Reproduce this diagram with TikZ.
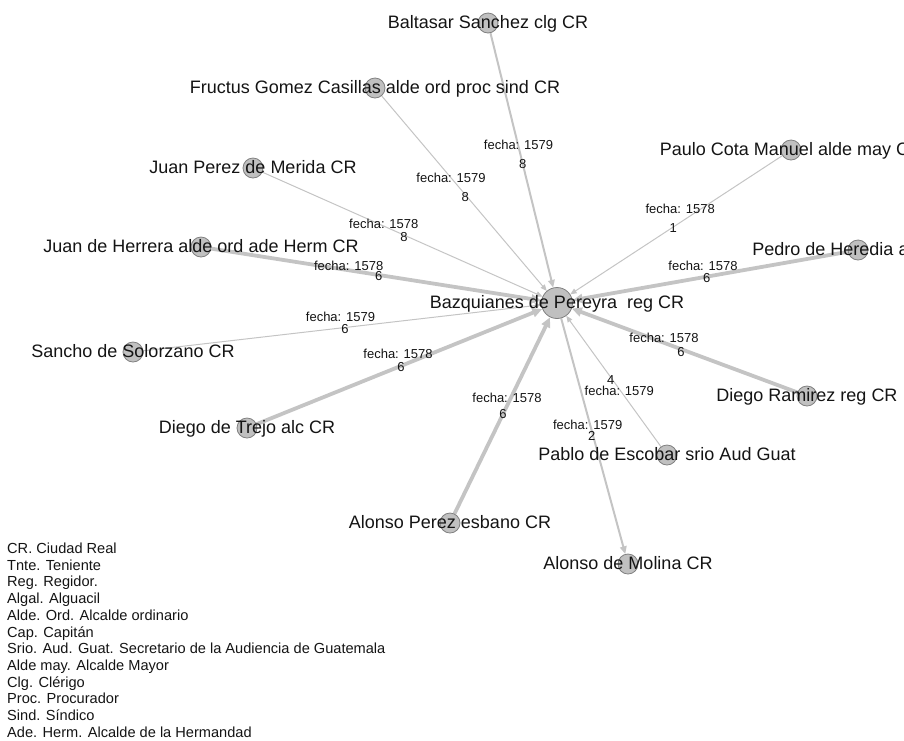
\documentclass[tikz,border=0pt]{standalone}
\usepackage{fontspec}
\setmainfont{Liberation Sans}
\usetikzlibrary{arrows.meta}
\pgfdeclarelayer{bg}
\pgfsetlayers{bg,main}
\definecolor{edgec}{RGB}{196,196,196}
\definecolor{nodef}{RGB}{192,192,192}
\definecolor{noded}{RGB}{128,128,128}
\definecolor{txt}{RGB}{20,20,20}
\begin{document}
\begin{tikzpicture}[x=1pt,y=-1pt,
  dot/.style={circle,draw=noded,fill=nodef,line width=0.8pt,minimum size=20pt,inner sep=0pt},
  hub/.style={dot,minimum size=31pt},
  lab/.style={anchor=base,inner sep=0pt,text=txt,font=\fontsize{18}{20}\selectfont,yshift=-5pt},
  elab/.style={inner sep=0pt,text=txt,font=\fontsize{13}{14}\selectfont},
  leg/.style={anchor=base west,inner sep=0pt,text=txt,font=\fontsize{14.6}{16}\selectfont},
  edge/.style={draw=edgec,-{Triangle[length=5pt 1.3,width=4pt 1.3]}},
  wthin/.style={edge,line width=1pt},
  wmid/.style={edge,line width=2pt},
  wthick/.style={edge,line width=3.8pt}]
\useasboundingbox (0,0) rectangle (904,740);
\clip (0,0) rectangle (904,740);

% circles
\node[hub] (cen) at (557,303) {};
\node[dot] (balt) at (488,23) {};
\node[dot] (fru) at (375,88) {};
\node[dot] (pau) at (791,150) {};
\node[dot] (jpm) at (253,168) {};
\node[dot] (her) at (201,247) {};
\node[dot] (ped) at (858,250) {};
\node[dot] (san) at (133,352) {};
\node[dot] (ram) at (807,396) {};
\node[dot] (tre) at (247,428) {};
\node[dot] (pab) at (667,455) {};
\node[dot] (ape) at (450,523) {};
\node[dot] (mol) at (628,564) {};

% edges
\begin{pgfonlayer}{bg}
\draw[wmid] (balt) -- (cen);
\draw[wthin] (fru) -- (cen);
\draw[wthin] (jpm) -- (cen);
\draw[wthick] (her) -- (cen);
\draw[wthin] (san) -- (cen);
\draw[wthick] (tre) -- (cen);
\draw[wthick] (ape) -- (cen);
\draw[wthin] (pab) -- (cen);
\draw[wmid] (cen) -- (mol);
\draw[wthick] (ram) -- (cen);
\draw[wthick] (ped) -- (cen);
\draw[wthin] (pau) -- (cen);
\end{pgfonlayer}

% node labels
\node[lab] (cenL) at (cen) {Bazquianes de Pereyra\ \ reg CR};
\node[lab] (baltL) at (balt) {Baltasar Sanchez clg CR};
\node[lab] (fruL) at (fru) {Fructus Gomez Casillas alde ord proc sind CR};
\node[lab] (pauL) at (pau) {Paulo Cota Manuel alde may CR};
\node[lab] (jpmL) at (jpm) {Juan Perez de Merida CR};
\node[lab] (herL) at (her) {Juan de Herrera alde ord ade Herm CR};
\node[lab] (pedL) at (ped) {Pedro de Heredia alde CR};
\node[lab] (sanL) at (san) {Sancho de Solorzano CR};
\node[lab] (ramL) at (ram) {Diego Ramirez reg CR};
\node[lab] (treL) at (tre) {Diego de Trejo alc CR};
\node[lab] (pabL) at (pab) {Pablo de Escobar srio Aud Guat};
\node[lab] (apeL) at (ape) {Alonso Perez esbano CR};
\node[lab] (molL) at (mol) {Alonso de Molina CR};

% edge labels
\node[elab] (baltF) at (518.5,145) {fecha: 1579};
\node[elab] (baltN) at (522.7,164) {8};
\node[elab] (fruF) at (451,177.7) {fecha: 1579};
\node[elab] (fruN) at (465.3,196.7) {8};
\node[elab] (jpmF) at (383.8,224.3) {fecha: 1578};
\node[elab] (jpmN) at (404,237.3) {8};
\node[elab] (herF) at (348.7,265.7) {fecha: 1578};
\node[elab] (herN) at (378.7,275.7) {6};
\node[elab] (sanF) at (340.5,317.3) {fecha: 1579};
\node[elab] (sanN) at (345,329.3) {6};
\node[elab] (treF) at (398,354) {fecha: 1578};
\node[elab] (treN) at (401,366.7) {6};
\node[elab] (apeF) at (507,398) {fecha: 1578};
\node[elab] (apeN) at (503,414) {6};
\node[elab] (molF) at (587.7,425) {fecha: 1579};
\node[elab] (molN) at (591.7,436) {2};
\node[elab] (pabN) at (610.7,380) {4};
\node[elab] (pabF) at (619.3,391) {fecha: 1579};
\node[elab] (ramF) at (664,338.3) {fecha: 1578};
\node[elab] (ramN) at (681,351.7) {6};
\node[elab] (pedF) at (703,265.7) {fecha: 1578};
\node[elab] (pedN) at (706.7,277.7) {6};
\node[elab] (pauF) at (680.2,209.3) {fecha: 1578};
\node[elab] (pauN) at (673.3,227.7) {1};

% legend
\foreach \t [count=\i] in {CR. Ciudad Real,Tnte. Teniente,Reg. Regidor.,Algal. Alguacil,Alde. Ord. Alcalde ordinario,Cap. Capitán,Srio. Aud. Guat. Secretario de la Audiencia de Guatemala,Alde may. Alcalde Mayor,Clg. Clérigo,Proc. Procurador,Sind. Síndico,Ade. Herm. Alcalde de la Hermandad}
  \node[leg] (leg\i) at (7,{553.5+16.7*(\i-1)}) {\t};
\end{tikzpicture}
\end{document}
